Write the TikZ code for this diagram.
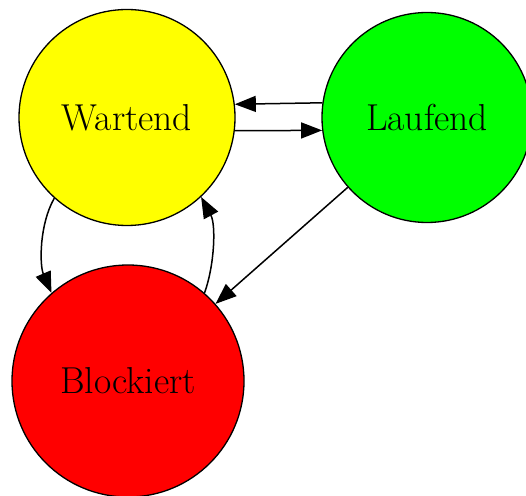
\documentclass[tikz,border=0pt]{standalone}
\usetikzlibrary{arrows.meta}
\definecolor{stateyellow}{RGB}{255,255,0}
\definecolor{stategreen}{RGB}{0,255,0}
\definecolor{statered}{RGB}{255,0,0}
\begin{document}
\begin{tikzpicture}[x=1pt,y=1pt,
  state/.style={circle,draw=black,line width=1.3pt,inner sep=0pt,
    font=\fontsize{37.5}{44}\selectfont},
  edge/.style={draw=black,line width=1.5pt,-{Triangle[length=21pt,width=16pt]}}]
\useasboundingbox (0,0) rectangle (526,495);
\clip (0,0) rectangle (526,495);
\node[state,fill=stateyellow,minimum size=216pt] (W) at (127,377.5) {Wartend};
\node[state,fill=stategreen,minimum size=210pt] (L) at (427,377.5) {Laufend};
\node[state,fill=statered,minimum size=232pt] (B) at (128,114) {Blockiert};
% transitions
\draw[edge] (L.172.1) -- (W.7.7);
\draw[edge] (W.-7.7) -- (L.187.9);
\draw[edge] (W.228) .. controls +(-15,-26) and +(-12,28) .. (B.131.6);
\draw[edge] (B.49) .. controls +(10,28) and +(15,-28) .. (W.-47);
\draw[edge] (L) -- (B);
\end{tikzpicture}
\end{document}
